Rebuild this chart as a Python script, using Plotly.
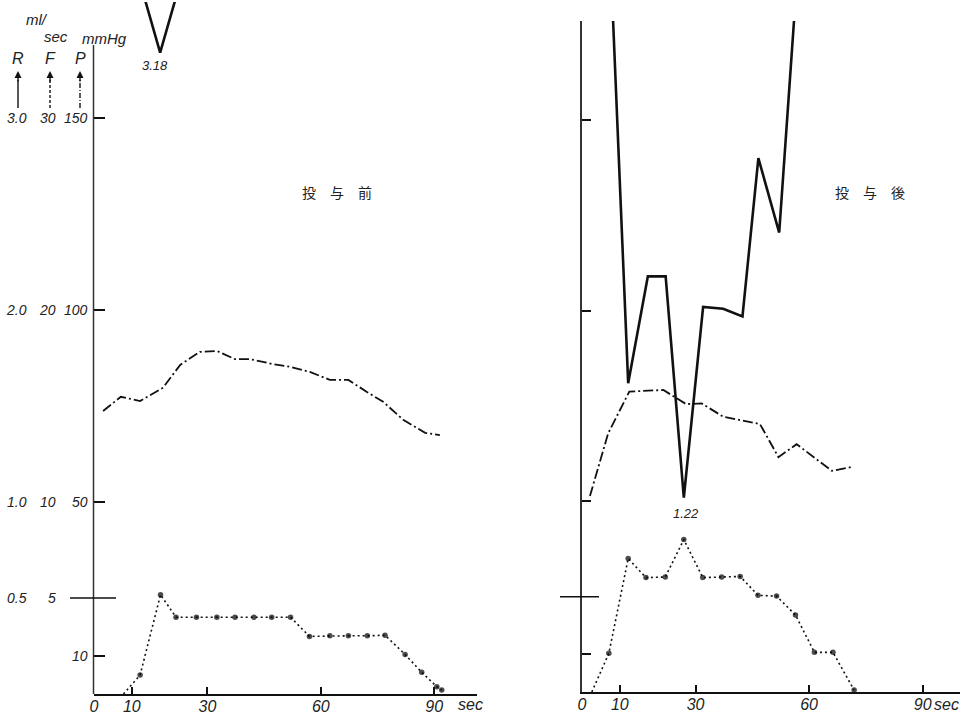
import plotly.graph_objects as go

W, H = 967, 716

# ---------------- data ----------------
# 投与前 (before administration)
t_P_before = [2.4, 7.1, 12.2, 18.3, 22.8, 28.0, 32.6, 37.3, 41.3, 47.4, 51.9, 57.1,
              62.4, 67.3, 72.1, 76.5, 81.8, 87.6, 91.5]
P_before = [73.7, 77.4, 76.3, 79.8, 85.7, 89.1, 89.3, 87.2, 87.2, 85.9, 85.2, 83.9,
            81.8, 81.8, 78.7, 76.1, 71.4, 68.0, 67.4]          # mmHg

t_F_before = [7.8, 12.2, 17.6, 21.7, 27.1, 32.5, 37.3, 42.3, 47.0, 52.0, 57.0,
              62.4, 67.3, 72.3, 77.0, 82.3, 86.7, 90.7, 92.0]
F_before = [0.0, 0.99, 5.17, 4.0, 4.0, 4.0, 4.0, 4.0, 4.0, 4.0, 3.0,
            3.03, 3.03, 3.03, 3.06, 2.06, 1.13, 0.38, 0.21]    # ml/sec

t_R_before = [13.0, 17.5, 22.0]
R_before = [3.65, 3.34, 3.65]                                  # off-scale, min labelled 3.18

# 投与後 (after administration)
t_P_after = [2.1, 6.9, 12.5, 21.5, 27.5, 31.6, 37.3, 47.0, 51.9, 56.7, 66.0, 71.7]
P_after = [51.4, 67.8, 78.8, 79.2, 75.5, 75.7, 72.2, 70.3, 61.6, 65.0, 58.0, 59.1]

t_F_after = [2.6, 7.1, 12.2, 16.9, 22.0, 26.9, 31.9, 36.9, 41.8, 46.5, 51.4,
             56.4, 61.4, 66.3, 71.9]
F_after = [0.0, 2.03, 7.0, 6.0, 6.03, 8.0, 6.0, 6.03, 6.06, 5.07, 5.03,
           4.04, 2.08, 2.08, 0.1]

t_R_after = [7.0, 12.2, 17.4, 22.1, 26.9, 32.0, 37.3, 42.4, 46.6, 52.1, 57.0]
R_after = [4.1, 1.62, 2.18, 2.18, 1.02, 2.02, 2.01, 1.97, 2.80, 2.41, 3.8]

# tick labels
R_ticks = [3.0, 2.0, 1.0, 0.5]
F_ticks = [30, 20, 10, 5]
P_ticks = [150, 100, 50, 10]
P_tickmarks = [150, 100, 50, 10]
F_long_tick = 5
x_ticks = [0, 10, 30, 60, 90]
x_ticktext = ["0", "10", "30", "60", "90"]

R_min_before_label = "3.18"
R_min_after_label = "1.22"
title_before = "投\u3000与\u3000前"
title_after = "投\u3000与\u3000後"

# ---------------- geometry helpers ----------------
def px(x):
    return x / W

def py(y):
    return 1 - y / H

# left panel
L_x0, L_x1, L_spp = 94, 477, 3.78
L_ybot, L_ytop, L_ppm = 694, 2, 3.84
L_Ptop = (L_ybot - L_ytop) / L_ppm
# right panel
R_x0, R_x1, R_spp = 582, 960, 3.785
R_ybot, R_ytop, R_ppm = 692, 21, 3.813
R_Ptop = (R_ybot - R_ytop) / R_ppm

INK = "#111111"
AX = "#333333"
italic = dict(family="Liberation Sans, Arial, sans-serif", size=14, color="#222", style="italic")
xfont = dict(family="Liberation Sans, Arial, sans-serif", size=16, color="#222", style="italic")

P_line = dict(color=INK, width=1.8, dash="10px,3px,2px,3px")
F_line = dict(color=INK, width=1.6, dash="2px,3px")
R_line = dict(color=INK, width=2.6)

fig = go.Figure()

def add_panel(xa, yP, yF, yR, tP, P, tF, F, tR, R):
    fig.add_trace(go.Scatter(x=tP, y=P, mode="lines", line=P_line, xaxis=xa, yaxis=yP,
                             hoverinfo="skip"))
    sizes = [0] + [5.5] * (len(F) - 1)
    fig.add_trace(go.Scatter(x=tF, y=F, mode="lines+markers", line=F_line,
                             marker=dict(size=sizes, color="black", line=dict(width=0)),
                             xaxis=xa, yaxis=yF, hoverinfo="skip"))
    fig.add_trace(go.Scatter(x=tR, y=R, mode="lines", line=R_line, xaxis=xa, yaxis=yR,
                             hoverinfo="skip"))

add_panel("x", "y", "y2", "y3", t_P_before, P_before, t_F_before, F_before, t_R_before, R_before)
add_panel("x2", "y4", "y5", "y6", t_P_after, P_after, t_F_after, F_after, t_R_after, R_after)

xcommon = dict(showgrid=False, zeroline=False, showline=True, linecolor=INK, linewidth=1.5,
               ticks="inside", ticklen=7, tickwidth=1.5, tickcolor=INK, automargin=False,
               tickvals=x_ticks, ticktext=x_ticktext, tickfont=xfont, fixedrange=True,
               ticklabelstandoff=-3)

fig.update_layout(
    width=W, height=H,
    margin=dict(l=0, r=0, t=0, b=0, autoexpand=False),
    paper_bgcolor="white", plot_bgcolor="rgba(0,0,0,0)",
    showlegend=False,
    xaxis=dict(domain=[px(L_x0), px(L_x1)], range=[0, (L_x1 - L_x0) / L_spp], anchor="y", **xcommon),
    xaxis2=dict(domain=[px(R_x0), px(R_x1)], range=[0, (R_x1 - R_x0) / R_spp], anchor="y4", **xcommon),
    yaxis=dict(domain=[py(L_ybot), py(L_ytop)], range=[0, L_Ptop], anchor="x", automargin=False,
               showgrid=False, zeroline=False, showline=False, showticklabels=False,
               ticks="inside", ticklen=11, tickwidth=1.5, tickcolor=INK, tickvals=P_tickmarks),
    yaxis2=dict(overlaying="y", anchor="x", range=[0, L_Ptop / 5], visible=False, automargin=False),
    yaxis3=dict(overlaying="y", anchor="x", range=[0, L_Ptop / 50], visible=False, automargin=False),
    yaxis4=dict(domain=[py(R_ybot), py(R_ytop)], range=[0, R_Ptop], anchor="x2", automargin=False,
                showgrid=False, zeroline=False, showline=True, linecolor=AX, linewidth=1.5,
                showticklabels=False, ticks="inside", ticklen=9, tickwidth=1.5, tickcolor=INK,
                tickvals=P_tickmarks),
    yaxis5=dict(overlaying="y4", anchor="x2", range=[0, R_Ptop / 5], visible=False, automargin=False),
    yaxis6=dict(overlaying="y4", anchor="x2", range=[0, R_Ptop / 50], visible=False, automargin=False),
)

shapes = []
# left y-axis line (starts below the header)
shapes.append(dict(type="line", xref="paper", yref="y", x0=px(L_x0 - 0.5), x1=px(L_x0 - 0.5),
                   y0=0, y1=(L_ybot - 45) / L_ppm, line=dict(color=AX, width=1.5)))
# long ticks at F = 5
shapes.append(dict(type="line", xref="paper", yref="y2", x0=px(70), x1=px(116),
                   y0=F_long_tick, y1=F_long_tick, line=dict(color=INK, width=1.5)))
shapes.append(dict(type="line", xref="paper", yref="y5", x0=px(560), x1=px(599),
                   y0=F_long_tick, y1=F_long_tick, line=dict(color=INK, width=1.5)))
# header arrow shafts: R solid, F dashed, P dash-dot
shapes.append(dict(type="line", xref="paper", yref="paper", x0=px(18), x1=px(18),
                   y0=py(108), y1=py(80), line=dict(color=INK, width=1.4)))
shapes.append(dict(type="line", xref="paper", yref="paper", x0=px(50), x1=px(50),
                   y0=py(108), y1=py(80), line=dict(color=INK, width=1.4, dash="3px,2px")))
shapes.append(dict(type="line", xref="paper", yref="paper", x0=px(80), x1=px(80),
                   y0=py(108), y1=py(80), line=dict(color=INK, width=1.4, dash="5px,2px,1px,2px")))
fig.update_layout(shapes=shapes)

ann = []
# y tick label columns
for v in R_ticks:
    ann.append(dict(xref="paper", yref="y3", x=px(29), y=v, text=f"{v:.1f}", showarrow=False,
                    xanchor="right", yanchor="middle", font=italic))
for v in F_ticks:
    ann.append(dict(xref="paper", yref="y2", x=px(58), y=v, text=str(v), showarrow=False,
                    xanchor="right", yanchor="middle", font=italic))
for v in P_ticks:
    ann.append(dict(xref="paper", yref="y", x=px(90), y=v, text=str(v), showarrow=False,
                    xanchor="right", yanchor="middle", font=italic))

hfont = dict(family="Liberation Sans, Arial, sans-serif", size=16, color="#222", style="italic")
for lab, xx in [("R", 18), ("F", 50), ("P", 80)]:
    ann.append(dict(xref="paper", yref="paper", x=px(xx), y=py(59), text=lab, showarrow=False,
                    xanchor="center", yanchor="middle", font=hfont))
    ann.append(dict(xref="paper", yref="paper", x=px(xx), y=py(71), ax=0, ay=12, text="",
                    showarrow=True, arrowhead=2, arrowsize=1, arrowwidth=1.4, arrowcolor=INK,
                    axref="pixel", ayref="pixel"))
ann.append(dict(xref="paper", yref="paper", x=px(37), y=py(19), text="ml/", showarrow=False,
                xanchor="center", yanchor="middle", font=dict(hfont, size=15)))
ann.append(dict(xref="paper", yref="paper", x=px(56), y=py(36), text="sec", showarrow=False,
                xanchor="center", yanchor="middle", font=dict(hfont, size=15)))
ann.append(dict(xref="paper", yref="paper", x=px(104), y=py(38), text="mmHg", showarrow=False,
                xanchor="center", yanchor="middle", font=dict(hfont, size=15)))

# minimum labels
ann.append(dict(xref="paper", yref="paper", x=px(155), y=py(65), text=R_min_before_label,
                showarrow=False, xanchor="center", yanchor="middle", font=dict(italic, size=13)))
ann.append(dict(xref="paper", yref="paper", x=px(686), y=py(513), text=R_min_after_label,
                showarrow=False, xanchor="center", yanchor="middle", font=dict(italic, size=13)))

# panel titles
jfont = dict(family="Noto Sans CJK JP", size=14, color="#222")
ann.append(dict(xref="paper", yref="paper", x=px(337), y=py(192), text=title_before,
                showarrow=False, xanchor="center", yanchor="middle", font=jfont))
ann.append(dict(xref="paper", yref="paper", x=px(870), y=py(192), text=title_after,
                showarrow=False, xanchor="center", yanchor="middle", font=jfont))

# "sec" units on x axes
ann.append(dict(xref="paper", yref="paper", x=px(470), y=py(704), text="sec", showarrow=False,
                xanchor="center", yanchor="middle", font=xfont))
ann.append(dict(xref="paper", yref="paper", x=px(946), y=py(704), text="sec", showarrow=False,
                xanchor="center", yanchor="middle", font=xfont))

fig.update_layout(annotations=ann)

fig.write_html("out.html", config={"displayModeBar": False},
               post_script="document.body.style.margin='0px';")
